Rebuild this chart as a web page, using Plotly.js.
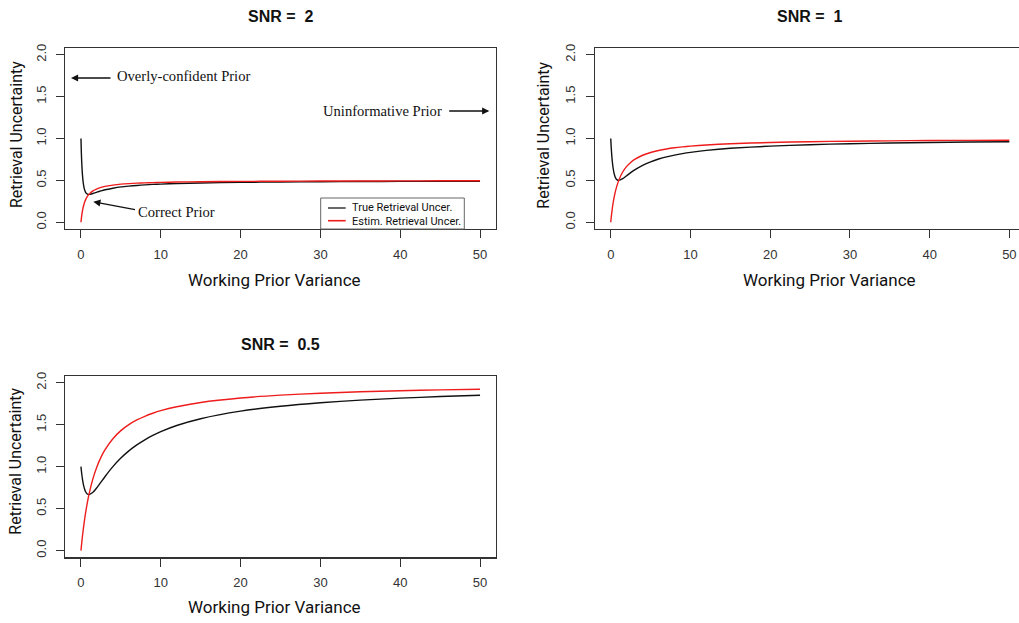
<!DOCTYPE html>
<html>
<head>
<meta charset="utf-8">
<script src="https://cdn.plot.ly/plotly-3.0.1.min.js"></script>
<style>
html,body{margin:0;padding:0;overflow:hidden;background:#fff;}
#chart{width:1026px;height:623px;}
</style>
</head>
<body>
<div id="chart"></div>
<script>
// Working prior variance (x)
const priorVar = [0,0.05,0.1,0.2,0.3,0.4,0.5,0.6,0.8,1,1.5,2,2.5,3,4,5,6,7,8,9,10,12,15,20,25,30,35,40,45,50];

// SNR = 2
const snr2True = [1,0.831,0.708,0.551,0.461,0.407,0.375,0.355,0.337,0.333,0.344,0.36,0.375,0.388,0.407,0.422,0.432,0.44,0.446,0.452,0.456,0.462,0.469,0.477,0.481,0.484,0.486,0.488,0.489,0.490];
const snr2Est  = [0,0.045,0.083,0.143,0.188,0.222,0.25,0.273,0.308,0.333,0.375,0.4,0.417,0.429,0.444,0.455,0.462,0.467,0.471,0.474,0.476,0.48,0.484,0.488,0.49,0.492,0.493,0.494,0.495,0.495];

// SNR = 1
const snr1True = [1,0.909,0.835,0.722,0.645,0.592,0.556,0.531,0.506,0.5,0.52,0.556,0.592,0.625,0.68,0.722,0.755,0.781,0.802,0.82,0.835,0.858,0.883,0.909,0.926,0.938,0.946,0.952,0.958,0.962];
const snr1Est  = [0,0.048,0.091,0.167,0.231,0.286,0.333,0.375,0.444,0.5,0.6,0.667,0.714,0.75,0.8,0.833,0.857,0.875,0.889,0.9,0.909,0.923,0.938,0.952,0.962,0.968,0.972,0.976,0.978,0.980];

// SNR = 0.5
const snr05True = [1,0.953,0.912,0.843,0.79,0.75,0.72,0.698,0.674,0.667,0.694,0.75,0.815,0.88,1.0,1.102,1.188,1.259,1.32,1.372,1.417,1.49,1.571,1.661,1.72,1.762,1.793,1.816,1.835,1.851];
const snr05Est  = [0,0.049,0.095,0.182,0.261,0.333,0.4,0.462,0.571,0.667,0.857,1,1.111,1.2,1.333,1.429,1.5,1.556,1.6,1.636,1.667,1.714,1.765,1.818,1.852,1.875,1.892,1.905,1.915,1.923];

const panelTitles = ["SNR =  2", "SNR =  1", "SNR =  0.5"];
const xTicks = [0,10,20,30,40,50];
const yTicks = [0,0.5,1,1.5,2];
const yTickText = ["0.0","0.5","1.0","1.5","2.0"];
const xLabel = "Working Prior Variance";
const yLabel = "Retrieval Uncertainty";
const seriesNames = ["True Retrieval Uncer.", "Estim. Retrieval Uncer."];

const W = 1026, H = 623;
const BLACK = '#111111', RED = '#ee1c1c';
const px = v => v / W;
const py = v => 1 - v / H;

const lineW = 1.4;
function tr(y, color, xa, ya, name) {
  return {x: priorVar, y: y, type: 'scatter', mode: 'lines', name: name,
          line: {color: color, width: lineW, shape: 'spline', smoothing: 0.6},
          xaxis: xa, yaxis: ya, showlegend: false, hoverinfo: 'skip'};
}
const data = [
  tr(snr2True, BLACK, 'x', 'y', seriesNames[0]),
  tr(snr2Est, RED, 'x', 'y', seriesNames[1]),
  tr(snr1True, BLACK, 'x2', 'y2', seriesNames[0]),
  tr(snr1Est, RED, 'x2', 'y2', seriesNames[1]),
  tr(snr05True, BLACK, 'x3', 'y3', seriesNames[0]),
  tr(snr05Est, RED, 'x3', 'y3', seriesNames[1])
];

const tickFont = {family: 'Liberation Sans, Arial, sans-serif', size: 13, color: '#333'};
function xax(dom, anchor) {
  return {domain: dom, anchor: anchor, range: [-2, 52], tickvals: xTicks, ticks: 'outside',
          ticklen: 8, tickwidth: 1, tickcolor: '#333', showline: true, mirror: true,
          linecolor: '#333', linewidth: 1.2, showgrid: false, zeroline: false,
          tickfont: tickFont, ticklabelstandoff: 5};
}
function yax(dom, anchor) {
  return {domain: dom, anchor: anchor, range: [-0.08, 2.08], tickvals: yTicks, ticktext: yTickText,
          ticks: 'outside', ticklen: 8, tickwidth: 1, tickcolor: '#333', showline: true, mirror: true,
          linecolor: '#333', linewidth: 1.2, showgrid: false, zeroline: false,
          tickangle: -90, tickfont: tickFont, ticklabelstandoff: 5};
}

const titleFont = {family: 'Liberation Sans, Arial, sans-serif', size: 16, color: '#111', weight: 'bold'};
const labFont = {family: 'Roboto, sans-serif', size: 17, color: '#111'};
const ylabFont = {family: 'Roboto, sans-serif', size: 16, color: '#111'};
const serif = {family: 'Liberation Serif, Times New Roman, serif', size: 14.6, color: '#111'};
const legFont = {family: 'Roboto, sans-serif', size: 11, color: '#111'};

function txt(text, x, y, font, opts) {
  return Object.assign({text: text, xref: 'paper', yref: 'paper', x: px(x), y: py(y),
    showarrow: false, font: font, xanchor: 'center', yanchor: 'middle', borderpad: 0}, opts || {});
}
function arrow(hx, hy, tx, ty) {
  return {text: '', xref: 'paper', yref: 'paper', x: px(hx), y: py(hy), ax: tx - hx, ay: ty - hy,
    axref: 'pixel', ayref: 'pixel', showarrow: true, arrowhead: 2, arrowsize: 1.1,
    arrowwidth: 1.3, arrowcolor: '#111', standoff: 0, startstandoff: 0};
}

const annotations = [
  txt('<b>' + panelTitles[0] + '</b>', 280.5, 16, titleFont),
  txt('<b>' + panelTitles[1] + '</b>', 809.5, 16, titleFont),
  txt('<b>' + panelTitles[2] + '</b>', 280.5, 344, titleFont),
  txt(xLabel, 274.5, 280, labFont),
  txt(xLabel, 829.7, 280, labFont),
  txt(xLabel, 274.3, 606.7, labFont),
  txt(yLabel, 16, 135, ylabFont, {textangle: -90}),
  txt(yLabel, 542.7, 135, ylabFont, {textangle: -90}),
  txt(yLabel, 16, 461.7, ylabFont, {textangle: -90}),
  txt('Overly-confident Prior', 116, 76, serif, {xanchor: 'left'}),
  txt('Uninformative Prior', 321.7, 111, serif, {xanchor: 'left'}),
  txt('Correct Prior', 137.3, 212, serif, {xanchor: 'left'}),
  arrow(71, 78, 112, 78),
  arrow(489.3, 111, 447.7, 111),
  arrow(93.3, 201.7, 136.5, 210),
  txt(seriesNames[0], 350.5, 207.5, legFont, {xanchor: 'left'}),
  txt(seriesNames[1], 350.5, 221, legFont, {xanchor: 'left'})
];

const shapes = [
  {type: 'rect', xref: 'paper', yref: 'paper', x0: px(320.7), x1: px(464.3), y0: py(229), y1: py(198),
   line: {color: '#666', width: 1}, fillcolor: 'rgba(0,0,0,0)'},
  {type: 'line', xref: 'paper', yref: 'paper', x0: px(328), x1: px(345.7), y0: py(208), y1: py(208),
   line: {color: '#444', width: 1.6}},
  {type: 'line', xref: 'paper', yref: 'paper', x0: px(328), x1: px(345.7), y0: py(220.7), y1: py(220.7),
   line: {color: RED, width: 1.6}}
];

const layout = {
  width: W, height: H,
  margin: {l: 0, r: 0, t: 0, b: 0, pad: 0},
  paper_bgcolor: '#fff', plot_bgcolor: '#fff',
  showlegend: false,
  xaxis: xax([px(65), px(496)], 'y'),
  yaxis: yax([py(229), py(48)], 'x'),
  xaxis2: xax([px(594.8), px(1025.3)], 'y2'),
  yaxis2: yax([py(229), py(48)], 'x2'),
  xaxis3: xax([px(65), px(496)], 'y3'),
  yaxis3: yax([py(557.3), py(376)], 'x3'),
  annotations: annotations,
  shapes: shapes
};

Plotly.newPlot('chart', data, layout, {displayModeBar: false, staticPlot: true});
</script>
</body>
</html>
